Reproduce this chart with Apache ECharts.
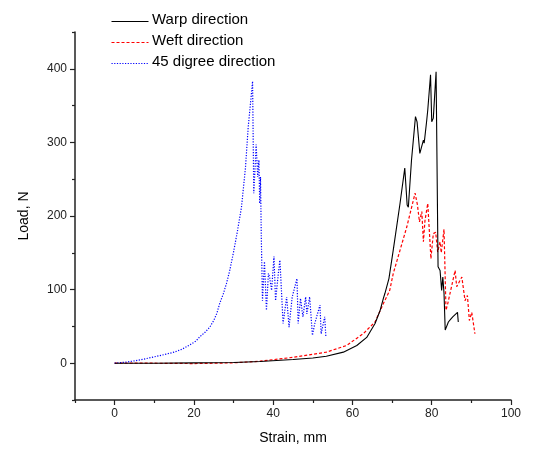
<!DOCTYPE html>
<html>
<head>
<meta charset="utf-8">
<script src="https://cdn.jsdelivr.net/npm/echarts@6/dist/echarts.min.js"></script>
<style>html,body{margin:0;padding:0;background:#fff}#c{width:544px;height:453px}</style>
</head>
<body>
<div id="c"></div>
<script>
// Warp direction
var warpStrain = [0,10,20,30,36.7,45,50,53.4,57.7,61.1,63.6,65.7,67,67.8,68.2,69.2,70.3,72,73.2,73.8,74.1,74.9,75.9,76.3,77,77.9,78.1,78.7,79,79.7,80,80.4,81.1,81.6,82.1,82.3,82.5,82.8,83.1,83.4,84.2,84.8,85.3,85.9,86.5,86.7];
var warpLoad   = [0,0,0.5,1,2.3,5,7,9.5,15,24,35,54,72,88,95,115,154,217,265,215,212,276,335,328,285,303,299,328,344,392,328,333,396,131,126,113,99,117,95,45,56,60,63,66,69,56];
// Weft direction
var weftStrain = [0,10,20,30,36.7,45,53.4,58.5,62.7,65.7,67.8,69.4,70.3,73.7,75.8,76.4,76.9,77.5,77.9,78.3,79,79.8,80.4,81,81.5,82.1,82.4,83.1,83.6,84,85.9,86.3,86.8,87.6,88.4,89,89.5,90.1,90.9];
var weftLoad   = [0,0,-0.5,0.5,2.7,8,15,24,40,56,81,99,122,185,231,215,192,206,165,194,217,142,176,178,151,165,150,182,72,80,126,104,106,117,85,92,58,69,40];
// 45 digree direction
var degStrain = [0,3,6,9,12,15,17,19,20.5,21.5,22.8,24,25,25.8,26.5,27.4,28.2,29,30,31,32,33,33.7,34.4,34.8,35.1,35.4,35.7,36.1,36.4,36.6,36.8,37.0,37.3,37.8,38.3,38.8,39.1,39.6,40.2,40.6,41.3,41.7,42.5,43.4,44,44.8,46,46.3,46.9,47.5,48.2,48.5,49.2,49.9,50.5,51.8,52.1,53,53.3];
var degLoad   = [0,1.5,4,7.5,11,15,19,25,30,36,42,49,58,68,81,94,108,125,151,180,212,265,321,360,383,231,262,297,253,276,217,253,172,85,138,72,122,117,99,145,85,122,140,54,90,49,90,115,54,88,63,90,67,90,38,54,79,40,63,35];

var xTicks = [0,20,40,60,80,100];
var xMinorTicks = [-10,10,30,50,70,90];
var yTicks = [0,100,200,300,400];
var yMinorTicks = [-50,50,150,250,350,450];
var legendNames = ['Warp direction','Weft direction','45 digree direction'];
var colors = ['#000000','#ff0000','#0000ff'];
var dashes = [null,[3,2],[1.2,1.5]];

function zip(a,b){return a.map(function(v,i){return [v,b[i]];});}

var axisCol = '#222';
var font = 'Liberation Sans, Arial, sans-serif';
var legendGraphic = [];
legendNames.forEach(function(n,i){
  var y = 19 + i*21;
  legendGraphic.push({type:'line',left:109,top:y,shape:{x1:0,y1:0,x2:37,y2:0},
    style:{stroke:colors[i],lineWidth:1.2,lineDash:dashes[i]}});
  legendGraphic.push({type:'text',left:152,top:y-7,
    style:{text:n,fontSize:15,fill:'#000',font:'15px '+font}});
});

var chart = echarts.init(document.getElementById('c'), null, {renderer:'canvas'});
chart.setOption({
  animation:false,
  backgroundColor:'#fff',
  textStyle:{fontFamily:font},
  grid:{left:75,right:33,top:32,bottom:53,containLabel:false},
  graphic:legendGraphic,
  xAxis:[{
    type:'value', min:-10, max:100, interval:10,
    name:'Strain, mm', nameLocation:'middle', nameGap:31,
    nameTextStyle:{fontSize:14,color:'#000'},
    axisLine:{show:true,onZero:false,lineStyle:{color:axisCol,width:1.5}},
    axisTick:{show:true,inside:false,length:5,customValues:xTicks,lineStyle:{color:axisCol,width:1.2}},
    axisLabel:{customValues:xTicks,fontSize:12,color:'#222',margin:8},
    splitLine:{show:false}
  },{
    type:'value', min:-10, max:100, interval:10, position:'bottom', offset:0,
    axisLine:{show:false,onZero:false},
    axisTick:{show:true,length:3,customValues:xMinorTicks,lineStyle:{color:axisCol,width:1.2}},
    axisLabel:{show:false}, splitLine:{show:false}
  }],
  yAxis:[{
    type:'value', min:-50, max:450, interval:50,
    name:'Load, N', nameLocation:'middle', nameGap:44,
    nameTextStyle:{fontSize:14,color:'#000'},
    axisLine:{show:true,onZero:false,lineStyle:{color:axisCol,width:1.5}},
    axisTick:{show:true,length:5,customValues:yTicks,lineStyle:{color:axisCol,width:1.2}},
    axisLabel:{customValues:yTicks,fontSize:12,color:'#222',margin:8},
    splitLine:{show:false}
  },{
    type:'value', min:-50, max:450, interval:50, position:'left', offset:0,
    axisLine:{show:false,onZero:false},
    axisTick:{show:true,length:3,customValues:yMinorTicks,lineStyle:{color:axisCol,width:1.2}},
    axisLabel:{show:false}, splitLine:{show:false}
  }],
  series:[
    {name:legendNames[0],type:'line',symbol:'none',smooth:false,data:zip(warpStrain,warpLoad),
     lineStyle:{color:colors[0],width:1.1,type:'solid'},z:3},
    {name:legendNames[1],type:'line',symbol:'none',data:zip(weftStrain,weftLoad),
     lineStyle:{color:colors[1],width:1.2,type:dashes[1]},z:2},
    {name:legendNames[2],type:'line',symbol:'none',data:zip(degStrain,degLoad),
     lineStyle:{color:colors[2],width:1.2,type:dashes[2]},z:2}
  ]
});
</script>
</body>
</html>
